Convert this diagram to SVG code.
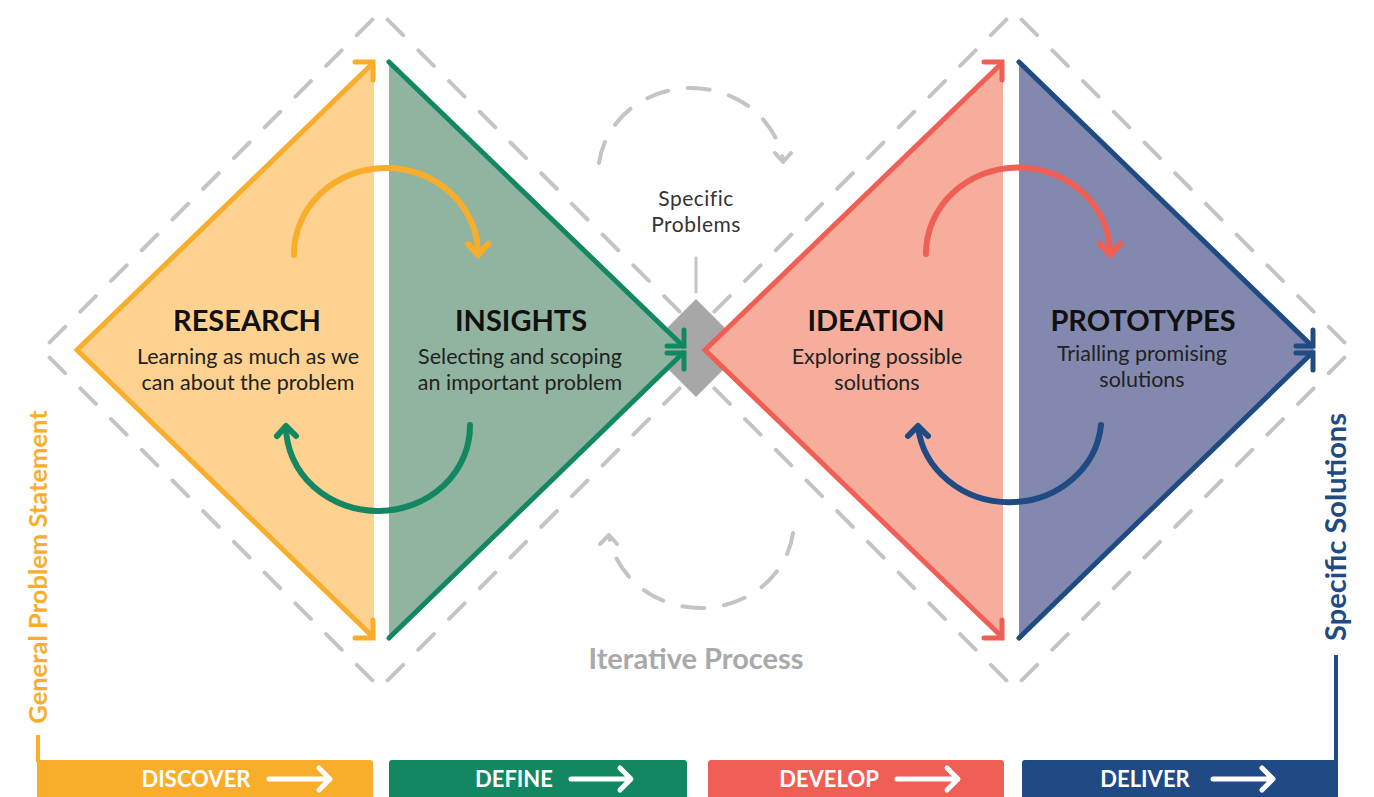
<svg xmlns="http://www.w3.org/2000/svg" width="1374" height="797" viewBox="0 0 1374 797">
  <style>
    .dash { fill: none; stroke: #c4c4c4; stroke-width: 4; stroke-linecap: round; stroke-dasharray: 22 21.45; stroke-dashoffset: 32.7; }
    .iter { fill: none; stroke: #c4c4c4; stroke-width: 4; stroke-linecap: round; stroke-dasharray: 22 20; }
    .iterhead { fill: none; stroke: #c4c4c4; stroke-width: 4; stroke-linecap: round; stroke-linejoin: round; }
    .edge { fill: none; stroke-width: 5; stroke-linecap: round; stroke-linejoin: miter; }
    .loop { fill: none; stroke-width: 6; stroke-linecap: round; stroke-linejoin: round; }
    .title { font-family: Lato, "Liberation Sans", sans-serif; font-weight: 700; font-size: 29px; fill: #111; text-anchor: middle; }
    .body { font-family: Lato, "Liberation Sans", sans-serif; font-weight: 400; font-size: 21.5px; fill: #222; text-anchor: middle; }
    .small { font-family: Lato, "Liberation Sans", sans-serif; font-weight: 400; font-size: 21px; fill: #333; text-anchor: middle; letter-spacing: 0.5px; }
    .bar { font-family: Lato, "Liberation Sans", sans-serif; font-weight: 700; font-size: 22px; fill: #fff; text-anchor: middle; }
    .bararrow { fill: none; stroke: #fff; stroke-width: 5; stroke-linecap: round; stroke-linejoin: round; }
    .side { font-family: Lato, "Liberation Sans", sans-serif; font-weight: 700; text-anchor: middle; }
  </style>

  <rect width="1374" height="797" fill="#fff"/>

  <!-- dashed outer diamonds -->
  <g id="outline-left">
    <line class="dash" x1="380" y1="12" x2="718" y2="350"/>
    <line class="dash" x1="718" y1="350" x2="380" y2="688"/>
    <line class="dash" x1="380" y1="688" x2="42" y2="350"/>
    <line class="dash" x1="42" y1="350" x2="380" y2="12"/>
  </g>
  <g id="outline-right">
    <line class="dash" x1="1014" y1="12" x2="1352" y2="350"/>
    <line class="dash" x1="1352" y1="350" x2="1014" y2="688"/>
    <line class="dash" x1="1014" y1="688" x2="676" y2="350"/>
    <line class="dash" x1="676" y1="350" x2="1014" y2="12"/>
  </g>

  <!-- central hub -->
  <g id="specific-problems">
    <polygon points="696,299 745,348 696,397 647,348" fill="#a7a7a7"/>
    <line x1="696" y1="258" x2="696" y2="292" stroke="#c4c4c4" stroke-width="3" stroke-linecap="round"/>
    <text class="small" x="696" y="206">Specific</text>
    <text class="small" x="696" y="232">Problems</text>
  </g>

  <!-- phase triangles -->
  <g id="research">
    <polygon points="77,350 374,62 374,638" fill="#fdd18f"/>
    <text class="title" x="247" y="331">RESEARCH</text>
    <text class="body" x="248" y="364">Learning as much as we</text>
    <text class="body" x="248" y="390">can about the problem</text>
  </g>
  <g id="insights">
    <polygon points="389,62 686,350 389,638" fill="#91b4a0"/>
    <text class="title" x="521" y="331">INSIGHTS</text>
    <text class="body" x="520" y="364">Selecting and scoping</text>
    <text class="body" x="520" y="390">an important problem</text>
  </g>
  <g id="ideation">
    <polygon points="705,350 1003,62 1003,638" fill="#f7ad9b"/>
    <text class="title" x="876" y="331">IDEATION</text>
    <text class="body" x="877" y="364">Exploring possible</text>
    <text class="body" x="877" y="390">solutions</text>
  </g>
  <g id="prototypes">
    <polygon points="1019,62 1315,350 1019,638" fill="#8389ae"/>
    <text class="title" x="1143" y="331">PROTOTYPES</text>
    <text class="body" x="1142" y="361">Trialling promising</text>
    <text class="body" x="1142" y="387">solutions</text>
  </g>

  <!-- connectors -->
  <g id="connectors">
    <!-- diverge / converge edges -->
    <path class="edge" stroke="#f9ae2b" d="M372,64 L77,350 L372,636"/>
    <path class="edge" stroke="#f9ae2b" d="M355,62 L373,62 L373,80 M355,638 L373,638 L373,620"/>

    <path class="edge" stroke="#138762" d="M389,62 L683,346 M389,638 L683,353"/>
    <path class="edge" stroke="#138762" d="M667,346 L684,346 L684,330 M667,353 L684,353 L684,369"/>

    <path class="edge" stroke="#f05f55" d="M1001,64 L705,350 L1001,636"/>
    <path class="edge" stroke="#f05f55" d="M984,62 L1002,62 L1002,80 M984,638 L1002,638 L1002,620"/>

    <path class="edge" stroke="#1f4a83" d="M1019,62 L1312,346 M1019,638 L1312,353"/>
    <path class="edge" stroke="#1f4a83" d="M1296,346 L1313,346 L1313,330 M1296,353 L1313,353 L1313,370"/>

    <!-- loops inside each diamond -->
    <path class="loop" stroke="#f9ae2b" d="M294,255 A92 86 0 0 1 478,253"/>
    <path class="loop" stroke="#f9ae2b" d="M468,244 L478,255 L488,244"/>
    <path class="loop" stroke="#138762" d="M470,425 A92 85 0 0 1 286,427"/>
    <path class="loop" stroke="#138762" d="M277,436 L286,426 L296,436"/>

    <path class="loop" stroke="#f05f55" d="M926,254 A92 86 0 0 1 1110,253"/>
    <path class="loop" stroke="#f05f55" d="M1100,244 L1110,255 L1120,244"/>
    <path class="loop" stroke="#1f4a83" d="M1101,425 A92 85 0 0 1 918,427"/>
    <path class="loop" stroke="#1f4a83" d="M908,436 L918,426 L928,436"/>

    <!-- iterative process loop -->
    <path class="iter" d="M599,163 A93 86 0 0 1 783,160"/>
    <path class="iterhead" d="M775,153 L783,162 L791,153"/>
    <path class="iter" d="M793,533 A93 86 0 0 1 609,536"/>
    <path class="iterhead" d="M600,544 L609,535 L617,544"/>

    <!-- side rails into the phase bar -->
    <path fill="none" stroke="#f9ae2b" stroke-width="4" d="M38,735 L38,762"/>
    <path fill="none" stroke="#1f4a83" stroke-width="4" d="M1336,655 L1336,762"/>
  </g>

  <text class="side" font-size="25.5" fill="#f9ae2b" transform="translate(47,567) rotate(-90)">General Problem Statement</text>
  <text class="side" font-size="29" fill="#1f4a83" transform="translate(1346,527) rotate(-90)">Specific Solutions</text>

  <g id="iterative-label">
    <text x="696" y="669" font-family="Lato, 'Liberation Sans', sans-serif" font-weight="700" font-size="29" fill="#a9a9a9" text-anchor="middle">Iterative Process</text>
  </g>

  <!-- phase bars -->
  <g id="discover">
    <rect x="37" y="760" width="336" height="50" rx="3" fill="#f9ae2b"/>
    <text class="bar" x="196" y="787">DISCOVER</text>
    <path class="bararrow" d="M269,779 L329,779 M319,768 L330,779 L319,790"/>
  </g>
  <g id="define">
    <rect x="389" y="760" width="298" height="50" rx="3" fill="#138762"/>
    <text class="bar" x="514" y="787">DEFINE</text>
    <path class="bararrow" d="M571,779 L630,779 M620,768 L631,779 L620,790"/>
  </g>
  <g id="develop">
    <rect x="708" y="760" width="296" height="50" rx="3" fill="#f05f55"/>
    <text class="bar" x="829" y="787">DEVELOP</text>
    <path class="bararrow" d="M897,779 L957,779 M947,768 L958,779 L947,790"/>
  </g>
  <g id="deliver">
    <rect x="1022" y="760" width="316" height="50" rx="3" fill="#1f4a83"/>
    <text class="bar" x="1145" y="787">DELIVER</text>
    <path class="bararrow" d="M1213,779 L1272,779 M1262,768 L1273,779 L1262,790"/>
  </g>
</svg>
